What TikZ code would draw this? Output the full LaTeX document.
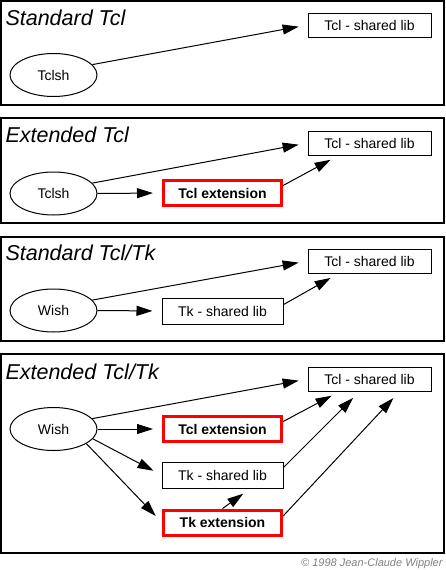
\documentclass[tikz,border=0pt]{standalone}
\usepackage{fontspec}
\setmainfont{Liberation Sans}
\usetikzlibrary{arrows.meta,shapes.geometric}

\begin{document}
\begin{tikzpicture}[x=1pt,y=-1pt,>={Triangle[length=16pt,width=10pt]},line width=1pt,
        title/.style={anchor=base west,inner sep=0pt,font=\fontsize{21.5}{24}\selectfont\itshape},
        prog/.style={draw,ellipse,minimum width=87pt,minimum height=43pt,inner sep=0pt,font=\fontsize{14}{16}\selectfont},
        lib/.style={draw,minimum width=123pt,minimum height=24pt,inner sep=0pt,font=\fontsize{14}{16}\selectfont},
        tklib/.style={draw,minimum width=121pt,minimum height=26pt,inner sep=0pt,font=\fontsize{14}{16}\selectfont},
        ext/.style={draw=red,line width=3pt,minimum width=118pt,minimum height=25pt,inner sep=0pt,font=\fontsize{14}{16}\selectfont\bfseries},
        dep/.style={->,shorten >=9pt},
        panel/.style={line width=1.2pt}]
    \useasboundingbox (0,0) rectangle (445,570);

    % Standard Tcl
    \draw[panel] (1,1) rectangle (444,105);
    \node[title]            (t1)   at (5,25)       {Standard Tcl};
    \node[prog]             (sh1)  at (53.5,75)    {Tclsh};
    \node[lib]              (lib1) at (369.5,25)   {Tcl - shared lib};
    \path[dep] (sh1.15) edge (lib1.west);

    % Extended Tcl
    \draw[panel] (1,118) rectangle (444,223);
    \node[title]            (t2)   at (5,142)      {Extended Tcl};
    \node[prog]             (sh2)  at (53.5,193.5) {Tclsh};
    \node[lib]              (lib2) at (369.5,143)  {Tcl - shared lib};
    \node[ext]              (ext2) at (222.5,193)  {Tcl extension};
    \path[dep] (sh2.15) edge (lib2.west)
               (sh2.east) edge (ext2.west)
               (ext2.7) edge ([xshift=31pt]lib2.south west);

    % Standard Tcl/Tk
    \draw[panel] (1,237) rectangle (444,341);
    \node[title]            (t3)   at (5,260)      {Standard Tcl/Tk};
    \node[prog]             (sh3)  at (53.5,310.5) {Wish};
    \node[lib]              (lib3) at (369.5,261)  {Tcl - shared lib};
    \node[tklib]            (tk3)  at (222.5,311)  {Tk - shared lib};
    \path[dep] (sh3.15) edge (lib3.west)
               (sh3.east) edge (tk3.west)
               (tk3.6) edge ([xshift=31pt]lib3.south west);

    % Extended Tcl/Tk
    \draw[panel] (1,354) rectangle (444,553);
    \node[title]            (t4)   at (5,379)      {Extended Tcl/Tk};
    \node[prog]             (sh4)  at (53.5,429)   {Wish};
    \node[lib]              (lib4) at (369.5,379)  {Tcl - shared lib};
    \node[ext]              (ext4) at (222.5,429)  {Tcl extension};
    \node[tklib]            (tk4)  at (222.5,475)  {Tk - shared lib};
    \node[ext]              (tkx4) at (222.5,522.5) {Tk extension};
    \path[dep] (sh4.15) edge (lib4.west)
               (sh4.east) edge (ext4.west)
               (sh4.-14) edge (tk4.west)
               (sh4.-24) edge (tkx4.west)
               (ext4.7) edge ([xshift=32pt]lib4.south west)
               (tk4.7) edge ([xshift=52pt]lib4.south west)
               (tkx4.6) edge ([xshift=92pt]lib4.south west)
               (tkx4.north) edge ([xshift=28pt]tk4.south);

    \node[anchor=base east,inner sep=0pt,text=gray,font=\fontsize{11}{13}\selectfont\itshape] (copy) at (443,566) {© 1998 Jean-Claude Wippler};
\end{tikzpicture}
\end{document}
